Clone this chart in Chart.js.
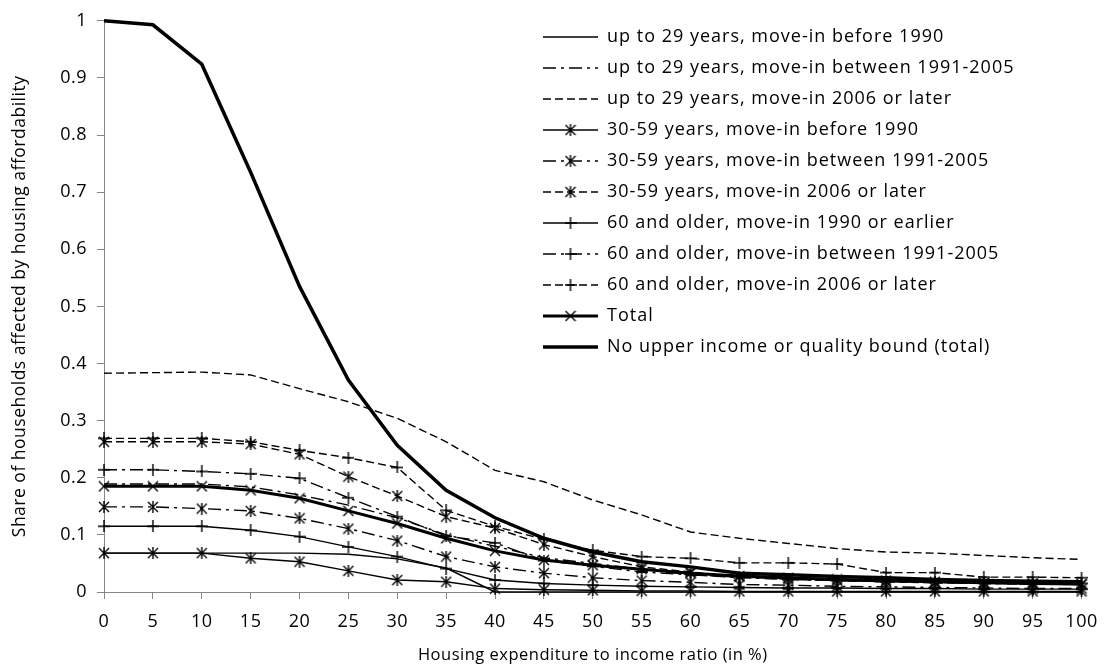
<!DOCTYPE html>
<html>
<head>
<meta charset="utf-8">
<script src="https://cdn.jsdelivr.net/npm/chart.js@4.4.1/dist/chart.umd.min.js"></script>
<style>
  html, body { margin: 0; padding: 0; background: #fff; }
  #wrap { width: 1109px; height: 667px; position: relative; }
</style>
</head>
<body>
<div id="wrap"><canvas id="c"></canvas></div>
<script>
// ---- data ----
const categories = ['0','5','10','15','20','25','30','35','40','45','50','55','60','65','70','75','80','85','90','95','100'];
const yTickLabels = ['0','0.1','0.2','0.3','0.4','0.5','0.6','0.7','0.8','0.9','1'];

const up29Before1990 = [0.068,0.068,0.068,0.068,0.068,0.066,0.058,0.042,0.000,0,0,0,0,0,0,0,0,0,0,0,0];
const up29Btw9105    = [0.189,0.189,0.189,0.184,0.170,0.152,0.130,0.100,0.080,0.060,0.050,0.040,0.030,0.026,0.024,0.020,0.018,0.017,0.015,0.014,0.013];
const up29From2006   = [0.383,0.384,0.385,0.380,0.356,0.333,0.304,0.263,0.213,0.193,0.161,0.135,0.105,0.094,0.085,0.076,0.070,0.068,0.064,0.060,0.057];
const mid30Before1990 = [0.068,0.068,0.068,0.059,0.053,0.037,0.021,0.018,0.006,0.004,0.003,0.002,0.002,0.001,0.001,0.001,0.001,0.001,0.001,0.001,0.001];
const mid30Btw9105    = [0.149,0.149,0.146,0.142,0.129,0.111,0.090,0.062,0.044,0.033,0.025,0.020,0.017,0.013,0.012,0.010,0.009,0.008,0.007,0.006,0.006];
const mid30From2006   = [0.263,0.263,0.263,0.259,0.241,0.202,0.168,0.132,0.112,0.083,0.062,0.044,0.035,0.027,0.022,0.020,0.018,0.016,0.015,0.014,0.013];
const old60Before1990 = [0.115,0.115,0.115,0.108,0.097,0.079,0.062,0.041,0.021,0.015,0.012,0.010,0.009,0.008,0.007,0.007,0.006,0.006,0.005,0.005,0.005];
const old60Btw9105    = [0.214,0.214,0.211,0.207,0.199,0.165,0.132,0.098,0.086,0.055,0.045,0.035,0.030,0.025,0.022,0.020,0.018,0.017,0.016,0.015,0.015];
const old60From2006   = [0.269,0.269,0.269,0.263,0.248,0.235,0.218,0.143,0.115,0.092,0.073,0.062,0.059,0.051,0.051,0.049,0.034,0.034,0.026,0.026,0.025];
const totalShare      = [0.185,0.185,0.185,0.178,0.164,0.142,0.120,0.094,0.072,0.056,0.047,0.040,0.033,0.028,0.025,0.022,0.020,0.018,0.016,0.015,0.014];
const noBoundTotal    = [1.000,0.993,0.924,0.735,0.535,0.371,0.257,0.178,0.130,0.094,0.070,0.053,0.044,0.033,0.030,0.027,0.025,0.022,0.020,0.019,0.018];

const seriesLabels = [
  'up to 29 years, move-in before 1990',
  'up to 29 years, move-in between 1991-2005',
  'up to 29 years, move-in 2006 or later',
  '30-59 years, move-in before 1990',
  '30-59 years, move-in between 1991-2005',
  '30-59 years, move-in 2006 or later',
  '60 and older, move-in 1990 or earlier',
  '60 and older, move-in between 1991-2005',
  '60 and older, move-in 2006 or later',
  'Total',
  'No upper income or quality bound (total)'
];
const xTitle = 'Housing expenditure to income ratio (in %)';
const yTitle = 'Share of households affected by housing affordability';

// ---- marker glyphs ----
function glyph(kind, size, lw) {
  const c = document.createElement('canvas');
  c.width = size; c.height = size;
  const g = c.getContext('2d');
  g.strokeStyle = '#000'; g.lineWidth = lw; g.lineCap = 'butt';
  const m = 1, s = size - 1, h = size / 2;
  g.beginPath();
  if (kind === 'star' || kind === 'x') {
    g.moveTo(m, m); g.lineTo(s, s);
    g.moveTo(s, m); g.lineTo(m, s);
  }
  if (kind === 'star') { g.moveTo(h, 0); g.lineTo(h, size); }
  if (kind === 'plus') { g.moveTo(h, 0); g.lineTo(h, size); g.moveTo(0, h); g.lineTo(size, h); }
  g.stroke();
  return c;
}
const STAR = glyph('star', 12, 1.4);
const PLUS = glyph('plus', 12, 1.4);
const XMK  = glyph('x', 12, 1.4);

const DASHDOT = [13, 5, 3, 5];
const DASH = [8, 4];
const FONT = '"Open Sans", sans-serif';

function ds(label, data, dash, width, marker) {
  return {
    label, data,
    borderColor: '#000', backgroundColor: '#000',
    borderWidth: width, borderDash: dash,
    pointStyle: marker || 'circle',
    pointRadius: marker ? 5 : 0,
    pointBorderColor: '#000', pointBackgroundColor: '#000',
    tension: 0, fill: false, clip: false
  };
}

const datasets = [
  ds(seriesLabels[0], up29Before1990, [], 1.4, null),
  ds(seriesLabels[1], up29Btw9105, DASHDOT, 1.4, null),
  ds(seriesLabels[2], up29From2006, DASH, 1.4, null),
  ds(seriesLabels[3], mid30Before1990, [], 1.4, STAR),
  ds(seriesLabels[4], mid30Btw9105, DASHDOT, 1.4, STAR),
  ds(seriesLabels[5], mid30From2006, DASH, 1.4, STAR),
  ds(seriesLabels[6], old60Before1990, [], 1.4, PLUS),
  ds(seriesLabels[7], old60Btw9105, DASHDOT, 1.4, PLUS),
  ds(seriesLabels[8], old60From2006, DASH, 1.4, PLUS),
  ds(seriesLabels[9], totalShare, [], 3, XMK),
  ds(seriesLabels[10], noBoundTotal, [], 3.5, null)
];

const spacingPlugin = {
  id: 'spacing',
  beforeDraw(chart) { chart.ctx.letterSpacing = '0.5px'; }
};

const legendPlugin = {
  id: 'customLegend',
  afterDraw(chart) {
    const ctx = chart.ctx;
    const x0 = 543, x1 = 598, tx = 607, top = 37, step = 31;
    chart.data.datasets.forEach((d, i) => {
      const y = top + i * step;
      ctx.save();
      ctx.strokeStyle = '#000';
      ctx.lineWidth = d.borderWidth;
      ctx.setLineDash(d.borderDash || []);
      ctx.beginPath(); ctx.moveTo(x0, y); ctx.lineTo(x1, y); ctx.stroke();
      ctx.setLineDash([]);
      if (d.pointRadius > 0 && typeof d.pointStyle === 'object') {
        const im = d.pointStyle;
        ctx.drawImage(im, (x0 + x1) / 2 - im.width / 2, y - im.height / 2);
      }
      ctx.fillStyle = '#000';
      ctx.font = '18px ' + FONT;
      ctx.letterSpacing = '1px';
      ctx.textAlign = 'left';
      ctx.textBaseline = 'middle';
      ctx.fillText(d.label, tx, y);
      ctx.restore();
    });
  }
};

const tickFont = { family: FONT, size: 18 };
new Chart(document.getElementById('c'), {
  type: 'line',
  data: { labels: categories, datasets },
  options: {
    responsive: true, maintainAspectRatio: false,
    animation: false, events: [],
    layout: { padding: { top: 20, right: 17, left: 0, bottom: 0 } },
    plugins: { legend: { display: false }, tooltip: { enabled: false } },
    scales: {
      x: {
        type: 'category',
        grid: { display: true, drawOnChartArea: false, drawTicks: true, tickLength: 7, color: '#868686' },
        border: { color: '#868686', width: 1 },
        ticks: { color: '#000', font: tickFont, padding: 12, autoSkip: false, maxRotation: 0 },
        title: { display: true, text: xTitle, color: '#000', font: { family: FONT, size: 16.5 }, padding: { top: 0, bottom: 2 } },
        afterFit(s) { s.height = 75; }
      },
      y: {
        min: 0, max: 1,
        grid: { display: true, drawOnChartArea: false, drawTicks: true, tickLength: 7, color: '#868686' },
        border: { color: '#868686', width: 1 },
        ticks: { color: '#000', font: tickFont, padding: 10, stepSize: 0.1,
                 callback: (v, i) => yTickLabels[i] },
        title: { display: true, text: yTitle, color: '#000', font: { family: FONT, size: 17.5 }, padding: { top: 9.5, bottom: 0 } },
        afterFit(s) { s.width = 104; }
      }
    }
  },
  plugins: [spacingPlugin, legendPlugin]
});
</script>
</body>
</html>
